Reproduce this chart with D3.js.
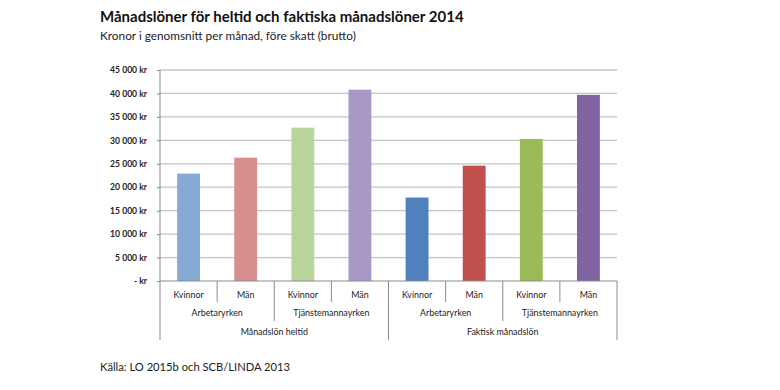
<!DOCTYPE html>
<html>
<head>
<meta charset="utf-8">
<script src="https://cdn.jsdelivr.net/npm/d3@7"></script>
<style>
    body { margin: 0; background: #fff; }
    svg { display: block; font-family: Lato, "Open Sans", sans-serif; }
</style>
</head>
<body>
<div id="chart"></div>
<script>
// chart data
const mainGroups = ["Månadslön heltid", "Faktisk månadslön"];
const subGroups = ["Arbetaryrken", "Tjänstemannayrken"];
const genders = ["Kvinnor", "Män"];
const salaries = [22900, 26300, 32700, 40800, 17800, 24600, 30300, 39700];
const barColors = ["#86aad4", "#d78f8d", "#b9d59a", "#a898c6", "#4f81bd", "#c0504d", "#9bbb59", "#8064a2"];
const yTicks = [0, 5000, 10000, 15000, 20000, 25000, 30000, 35000, 40000, 45000];

const width = 780;
const height = 390;
const margin = { top: 70, right: 163, bottom: 109, left: 160 };

const svg = d3
    .select("#chart")
    .append("svg")
    .attr("width", width)
    .attr("height", height);

//one row per bar, built from the arrays above
let rows = [];
mainGroups.forEach((g, gi) => {
    subGroups.forEach((s, si) => {
        genders.forEach((k, ki) => {
            let i = gi * 4 + si * 2 + ki;
            rows.push({ key: `${g}|${s}|${k}`, group: g, sub: s, gender: k, value: salaries[i], color: barColors[i] });
        });
    });
});

let x = d3
    .scaleBand()
    .domain(rows.map((d) => d.key))
    .range([margin.left, width - margin.right])
    .paddingInner(0.6)
    .paddingOuter(0.3);

let y = d3
    .scaleLinear()
    .domain([0, 45000])
    .range([height - margin.bottom, margin.top]);

const step = x.step();
const x0 = margin.left;
const x1 = width - margin.right;
const y0 = y(0);

//gridlines
svg.append("g")
    .selectAll("line")
    .data(yTicks.slice(1))
    .join("line")
    .attr("x1", x0)
    .attr("x2", x1)
    .attr("y1", (d) => y(d))
    .attr("y2", (d) => y(d))
    .attr("stroke", "#c4c4c4")
    .attr("stroke-width", 1.3);

//bars
svg.append("g")
    .selectAll("rect")
    .data(rows)
    .join("rect")
    .attr("x", (d) => x(d.key))
    .attr("y", (d) => y(d.value))
    .attr("width", x.bandwidth())
    .attr("height", (d) => y0 - y(d.value))
    .attr("fill", (d) => d.color);

//y axis
const fmt = (v) => (v === 0 ? "- kr" : d3.format(",")(v).replace(",", " ") + " kr");
let yAxis = svg
    .append("g")
    .attr("transform", `translate(${x0},0)`)
    .call(d3.axisLeft(y).tickValues(yTicks).tickFormat(fmt).tickSize(3).tickPadding(10));
yAxis.select(".domain").attr("stroke", "#8c8c8c").attr("d", `M0,${y0}V${y(45000)}`);
yAxis.selectAll(".tick line").attr("stroke", "#8c8c8c");
yAxis.selectAll(".tick text")
    .attr("font-family", "Lato, sans-serif")
    .attr("font-size", 8.6)
    .attr("font-weight", "bold")
    .attr("fill", "#222");

//x axis baseline
svg.append("line")
    .attr("x1", x0).attr("x2", x1)
    .attr("y1", y0).attr("y2", y0)
    .attr("stroke", "#8c8c8c")
    .attr("stroke-width", 1.2);

//multi level category labels
const rowY = [y0 + 17, y0 + 35, y0 + 54];
const lineEnds = [y0 + 21, y0 + 40, y0 + 59];
const lbl = svg.append("g").attr("font-size", 8.9).attr("fill", "#1a1a1a").attr("text-anchor", "middle");

//level 1: gender
lbl.selectAll(".l1")
    .data(rows)
    .join("text")
    .attr("x", (d) => x(d.key) + x.bandwidth() / 2)
    .attr("y", rowY[0])
    .text((d) => d.gender);

//level 2: occupation group
let subRows = rows.filter((d, i) => i % 2 === 0);
lbl.selectAll(".l2")
    .data(subRows)
    .join("text")
    .attr("x", (d) => x(d.key) - x.step() * 0.3 + step)
    .attr("y", rowY[1])
    .text((d) => d.sub);

//level 3: salary type
let groupRows = rows.filter((d, i) => i % 4 === 0);
lbl.selectAll(".l3")
    .data(groupRows)
    .join("text")
    .attr("x", (d) => x(d.key) - x.step() * 0.3 + step * 2)
    .attr("y", rowY[2])
    .text((d) => d.group);

//separators
let seps = d3.range(0, rows.length + 1).map((i) => {
    let level = i % 4 === 0 ? 2 : i % 2 === 0 ? 1 : 0;
    return { x: x0 + i * step, end: lineEnds[level] };
});
svg.append("g")
    .selectAll("line")
    .data(seps)
    .join("line")
    .attr("x1", (d) => d.x)
    .attr("x2", (d) => d.x)
    .attr("y1", y0)
    .attr("y2", (d) => d.end)
    .attr("stroke", "#8c8c8c")
    .attr("stroke-width", 1);

//titles
svg.append("text")
    .attr("x", 100)
    .attr("y", 22)
    .attr("font-size", 15)
    .attr("font-weight", "bold")
    .attr("fill", "#111")
    .text("Månadslöner för heltid och faktiska månadslöner 2014");

svg.append("text")
    .attr("x", 100)
    .attr("y", 40)
    .attr("font-size", 11.8)
    .attr("fill", "#222")
    .text("Kronor i genomsnitt per månad, före skatt (brutto)");

svg.append("text")
    .attr("x", 100)
    .attr("y", 371)
    .attr("font-size", 11.2)
    .attr("fill", "#222")
    .text("Källa: LO 2015b och SCB/LINDA 2013");
</script>
</body>
</html>
